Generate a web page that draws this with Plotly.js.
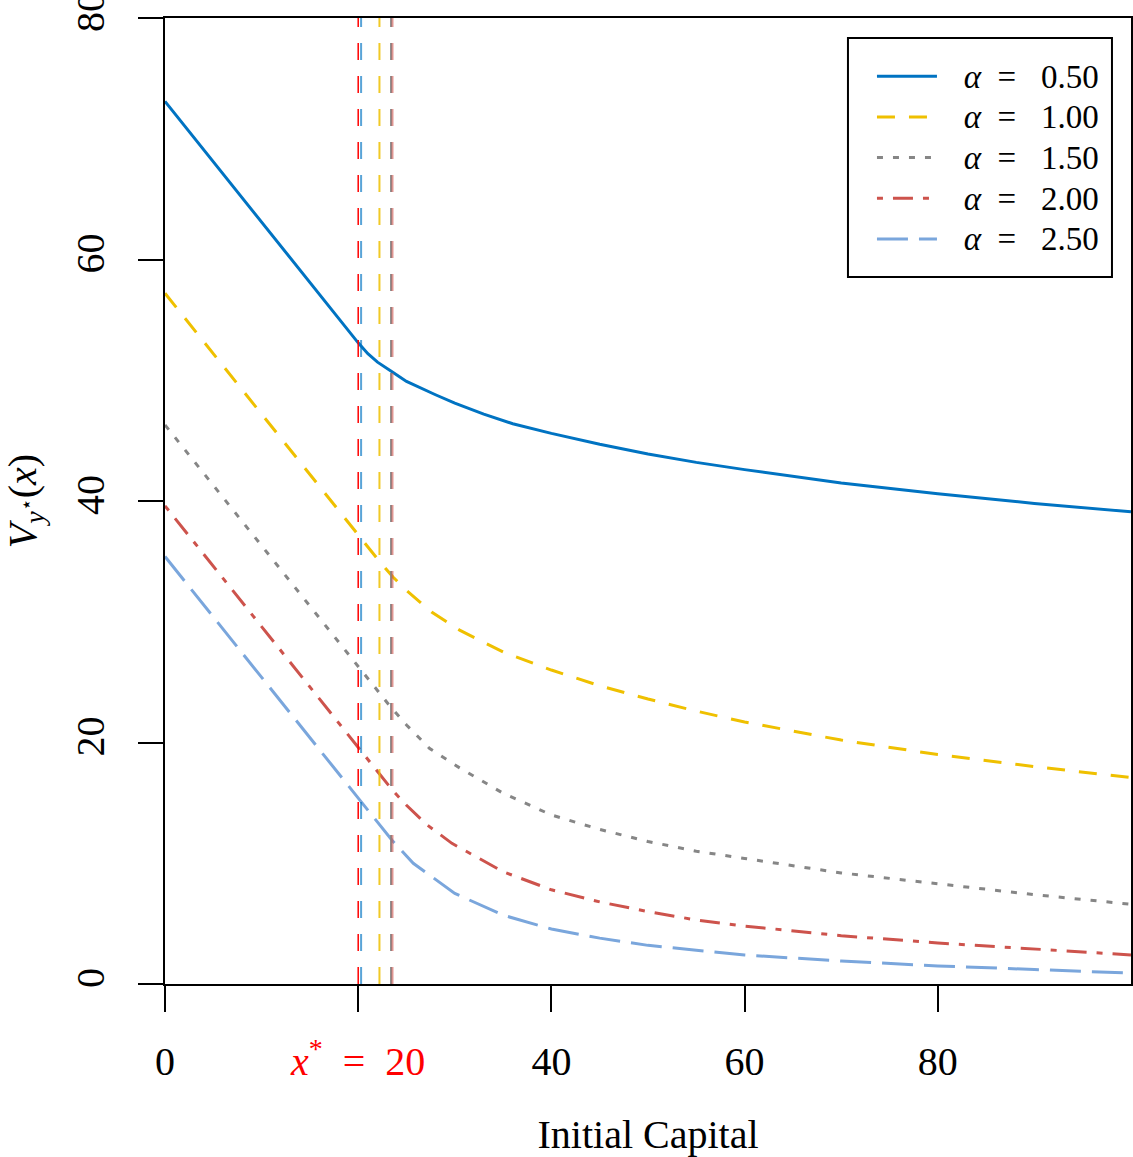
<!DOCTYPE html>
<html>
<head>
<meta charset="utf-8">
<script src="https://cdn.plot.ly/plotly-3.0.1.min.js"></script>
<style>html,body{margin:0;padding:0;background:#fff;}</style>
</head>
<body>
<div id="chart" style="width:1133px;height:1157px;"></div>
<script>
// ---- data ----
const alphaLabels = ["0.50", "1.00", "1.50", "2.00", "2.50"];

const xA05 = [0, 20, 21, 22, 23.5, 25, 28, 30, 33, 36, 40, 45, 50, 55, 60, 70, 80, 90, 100];
const yA05 = [73.1, 53.1, 52.2, 51.5, 50.7, 49.9, 48.8, 48.1, 47.2, 46.4, 45.6, 44.7, 43.9, 43.2, 42.6, 41.5, 40.6, 39.8, 39.1];

const xA10 = [0, 22.2, 23.6, 25, 27.6, 30.5, 35, 40, 45, 50, 55, 60, 70, 80, 90, 100];
const yA10 = [57.2, 35.0, 33.7, 32.6, 30.8, 29.3, 27.5, 26.0, 24.7, 23.6, 22.6, 21.7, 20.2, 19.0, 18.0, 17.1];

const xA15 = [0, 23.4, 25, 27.4, 30.5, 35, 40, 45, 50, 55, 60, 70, 80, 90, 100];
const yA15 = [46.3, 22.9, 21.45, 19.5, 17.9, 15.8, 14.0, 12.8, 11.8, 11.0, 10.4, 9.2, 8.3, 7.4, 6.6];

const xA20 = [0, 23.55, 25, 27.1, 29.7, 35, 40, 45, 50, 55, 60, 70, 80, 90, 100];
const yA20 = [39.6, 16.05, 14.8, 13.2, 11.65, 9.3, 7.8, 6.8, 6.0, 5.3, 4.8, 4.0, 3.4, 2.9, 2.4];

const xA25 = [0, 23.5, 25.7, 28.1, 30, 35, 40, 45, 50, 55, 60, 70, 80, 90, 100];
const yA25 = [35.4, 11.9, 10.0, 8.6, 7.5, 5.7, 4.55, 3.8, 3.2, 2.8, 2.4, 1.9, 1.5, 1.2, 0.9];

// thresholds (vertical lines) for alpha = 0.5, 1.0, 1.5, 2.0 and x* = 20
const thresholds = [20.3, 22.2, 23.4, 23.55];
const xStar = 20;

const xTickVals = [0, 20, 40, 60, 80];
const xTickText = ["0", "<span style=\"color:#ff0000\"><i>x</i><sup>*</sup>\u00a0\u00a0=\u00a0\u00a020</span>", "40", "60", "80"];
const yTickVals = [0, 20, 40, 60, 80];
const yTickText = ["0", "20", "40", "60", "80"];

// ---- styling ----
const colors = ["#0073C2", "#EFC000", "#868686", "#CD534C", "#7AA6DC"];
const dashes = ["solid", "18px,14px", "6px,10px", "6px,10px,20px,10px", "31px,11px"];
const vColors = ["rgba(0,115,194,0.65)", "rgba(239,192,0,0.85)", "rgba(134,134,134,0.95)", "rgba(205,83,76,0.6)"];
const FONT = "Liberation Serif, DejaVu Serif, serif";
const NB = "\u00a0";

const xs = [xA05, xA10, xA15, xA20, xA25];
const ys = [yA05, yA10, yA15, yA20, yA25];

const traces = xs.map((x, i) => ({
  type: "scatter",
  mode: "lines",
  x: x,
  y: ys[i],
  name: NB + NB + NB + "<span style=\"font-size:33px\"><i>α</i>" + NB + NB + "=" + NB + NB + NB + alphaLabels[i] + "</span>",
  line: {color: colors[i], width: 3, dash: dashes[i]},
  hoverinfo: "skip"
}));

const shapes = thresholds.map((t, i) => ({
  type: "line", xref: "x", yref: "paper", x0: t, x1: t, y0: 0, y1: 1,
  line: {color: vColors[i], width: 2, dash: "17px,16px"}
}));
shapes.push({
  type: "line", xref: "x", yref: "paper", x0: xStar, x1: xStar, y0: 0, y1: 1,
  line: {color: "#ff0000", width: 1.5, dash: "17px,16px"}
});
// legend frame
shapes.push({
  type: "rect", xref: "paper", yref: "paper", x0: 0.707, x1: 0.9803, y0: 0.7319, y1: 0.9793,
  fillcolor: "#fff", line: {color: "#000", width: 2}, layer: "above"
});

const axisCommon = {
  showgrid: false, zeroline: false, showline: true, mirror: true,
  linecolor: "#000", linewidth: 2, ticks: "outside", tickcolor: "#000",
  tickwidth: 2, tickfont: {family: FONT, size: 40, color: "#000"},
  ticklabeloverflow: "allow"
};

const layout = {
  width: 1133, height: 1157,
  margin: {l: 165, r: 2, t: 18, b: 173},
  paper_bgcolor: "#fff", plot_bgcolor: "#fff",
  font: {family: FONT, color: "#000"},
  showlegend: true,
  legend: {
    x: 0.707, xanchor: "left", y: 0.966, yanchor: "top",
    bgcolor: "rgba(0,0,0,0)", borderwidth: 0,
    font: {family: FONT, size: 29, color: "#000"},
    itemwidth: 60, tracegroupgap: 0, indentation: 24
  },
  xaxis: Object.assign({}, axisCommon, {
    range: [0, 100], tickmode: "array", tickvals: xTickVals, ticktext: xTickText,
    ticklen: 26, ticklabelstandoff: 15,
    title: {text: "Initial Capital", font: {family: FONT, size: 40, color: "#000"}, standoff: 44}
  }),
  yaxis: Object.assign({}, axisCommon, {
    range: [0, 80], tickmode: "array", tickvals: yTickVals, ticktext: yTickText,
    ticklen: 25, tickangle: -90, ticklabelstandoff: 18,
    title: {text: "<i>V</i><sub><i>y</i><sup>⋆</sup></sub>(<i>x</i>)", font: {family: FONT, size: 40, color: "#000"}, standoff: 37}
  }),
  shapes: shapes
};

Plotly.newPlot("chart", traces, layout, {displayModeBar: false, staticPlot: true});
</script>
</body>
</html>
